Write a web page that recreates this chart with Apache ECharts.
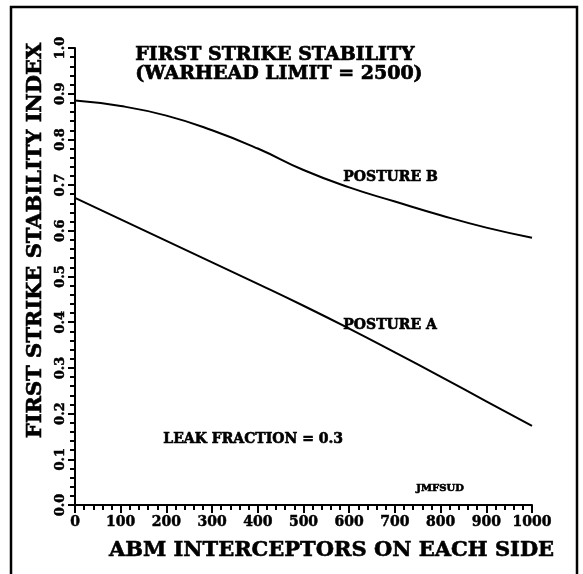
<!DOCTYPE html>
<html>
<head>
<meta charset="utf-8">
<script src="https://cdn.jsdelivr.net/npm/echarts@6/dist/echarts.min.js"></script>
<style>
  html, body { margin: 0; padding: 0; background: #fff; }
  #chart { width: 583px; height: 574px; }
</style>
</head>
<body>
<div id="chart"></div>
<script>
// ABM interceptors on each side
var interceptors = [0, 100, 200, 300, 400, 500, 600, 700, 800, 900, 1000]
// first strike stability index
var postureA = [0.672, 0.625, 0.578, 0.531, 0.484, 0.436, 0.386, 0.334, 0.281, 0.227, 0.173]
var postureB = [0.885, 0.873, 0.852, 0.82, 0.78, 0.733, 0.695, 0.664, 0.634, 0.607, 0.585]

var serif = 'DejaVu Serif'
var ink = '#000'

function pairs(ys) {
  return interceptors.map(function (x, i) {
    return [x, ys[i]]
  })
}

// heavy text, the scan is very bold
function note(left, top, text, size) {
  return {
    type: 'text',
    left: left,
    top: top,
    style: {
      text: text,
      font: 'bold ' + size + 'px "DejaVu Serif"',
      fill: ink,
      stroke: ink,
      lineWidth: 0.6,
    },
  }
}

var chart = echarts.init(document.getElementById('chart'))
chart.setOption({
  backgroundColor: '#fff',
  animation: false,
  grid: {
    left: 75,
    right: 51,
    top: 48,
    bottom: 69,
  },
  xAxis: {
    type: 'value',
    min: 0,
    max: 1000,
    interval: 100,
    name: 'ABM INTERCEPTORS ON EACH SIDE',
    nameLocation: 'middle',
    nameGap: 35,
    nameTextStyle: {
      fontFamily: serif,
      fontWeight: 'bold',
      fontSize: 21,
      color: ink,
      textBorderColor: ink,
      textBorderWidth: 0.6,
      padding: [0, 0, 0, 56],
    },
    axisLine: { show: true, lineStyle: { color: ink, width: 2 } },
    axisTick: { show: true, length: 8, lineStyle: { color: ink, width: 2 } },
    minorTick: { show: true, splitNumber: 5, length: 5, lineStyle: { color: ink, width: 2 } },
    splitLine: { show: false },
    axisLabel: {
      margin: 10,
      fontFamily: serif,
      fontWeight: 'bold',
      fontSize: 14,
      color: ink,
      textBorderColor: ink,
      textBorderWidth: 0.5,
      formatter: function (v) {
        return String(v)
      },
    },
  },
  yAxis: {
    type: 'value',
    min: 0,
    max: 1,
    interval: 0.1,
    name: 'FIRST STRIKE STABILITY INDEX',
    nameLocation: 'middle',
    nameGap: 29,
    nameTextStyle: {
      fontFamily: serif,
      fontWeight: 'bold',
      fontSize: 21,
      color: ink,
      textBorderColor: ink,
      textBorderWidth: 0.6,
      padding: [0, 0, 0, 72],
    },
    axisLine: { show: true, lineStyle: { color: ink, width: 2 } },
    axisTick: { show: true, length: 7, lineStyle: { color: ink, width: 2 } },
    minorTick: { show: true, splitNumber: 5, length: 5, lineStyle: { color: ink, width: 2 } },
    splitLine: { show: false },
    axisLabel: {
      rotate: 90,
      margin: 8,
      fontFamily: serif,
      fontWeight: 'bold',
      fontSize: 13,
      color: ink,
      textBorderColor: ink,
      textBorderWidth: 0.5,
      formatter: function (v) {
        return v.toFixed(1)
      },
    },
  },
  graphic: [
    {
      type: 'rect',
      shape: { x: 11, y: 7, width: 566, height: 590 },
      style: { fill: 'none', stroke: ink, lineWidth: 2.5 },
      silent: true,
    },
    {
      type: 'text',
      left: 135,
      top: 45,
      style: {
        text: 'FIRST STRIKE STABILITY\n(WARHEAD LIMIT = 2500)',
        font: 'bold 19px "DejaVu Serif"',
        lineHeight: 19,
        fill: ink,
        stroke: ink,
        lineWidth: 0.7,
      },
    },
    note(343, 170, 'POSTURE B', 14),
    note(343, 318, 'POSTURE A', 14),
    note(163, 432, 'LEAK FRACTION = 0.3', 14),
    note(416, 483, 'JMFSUD', 10),
  ],
  series: [
    {
      name: 'POSTURE B',
      type: 'line',
      smooth: 0.5,
      showSymbol: false,
      lineStyle: { color: ink, width: 2 },
      data: pairs(postureB),
    },
    {
      name: 'POSTURE A',
      type: 'line',
      smooth: 0.5,
      showSymbol: false,
      lineStyle: { color: ink, width: 2 },
      data: pairs(postureA),
    },
  ],
})
</script>
</body>
</html>
